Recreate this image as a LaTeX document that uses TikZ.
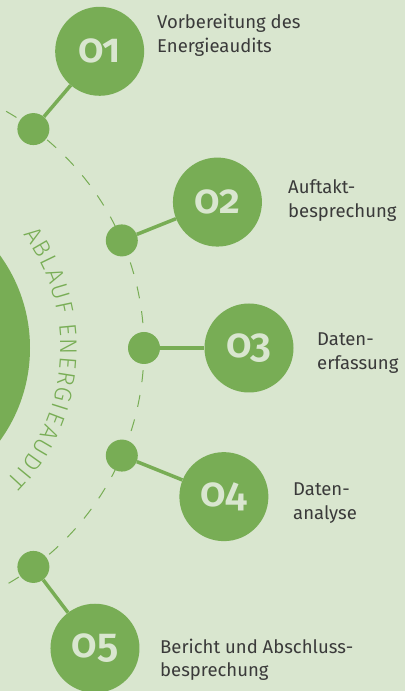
\documentclass[tikz,border=0pt]{standalone}
\usepackage{fontspec}
\setmainfont{Fira Sans}
\newfontfamily\numfont{Fira Sans SemiBold}[Numbers=OldStyle]
\newfontfamily\arcfont{Fira Sans Light}
\usetikzlibrary{positioning,decorations.text}
\definecolor{bg}{HTML}{D9E6CF}
\definecolor{leaf}{HTML}{78AD55}
\definecolor{ink}{HTML}{3A3A3A}
\tikzset{
  dot/.style={circle,fill=leaf,minimum size=32pt,inner sep=0pt},
  num/.style={circle,fill=leaf,minimum size=89pt,inner sep=0pt,text=bg,
    font=\numfont\fontsize{41}{41}\selectfont},
  desc/.style={align=left,anchor=base west,inner sep=0pt,text=ink,
    font=\fontsize{18.5}{24}\selectfont},
  link/.style={draw=leaf,line width=3.5pt},
}

\begin{document}
\begin{tikzpicture}[x=1pt,y=1pt]
           \useasboundingbox (0,0) rectangle (405,691);
           \clip (0,0) rectangle (405,691);
           \fill[bg] (0,0) rectangle (405,691);
           \coordinate (c) at (-128,343);
           \node[circle,fill=leaf,minimum size=316pt,inner sep=0pt] (hub) at (c) {};
           \draw[leaf,line width=1pt,dash pattern=on 12pt off 13pt] (c) circle[radius=272];
           \path[decorate,
                 decoration={text along path,text align=fit to path,text color=leaf,
                 text={|\arcfont\fontsize{24}{24}\selectfont|ABLAUF ENERGIEAUDIT}}]
                 ([shift={(37:189)}]c) arc[start angle=37,end angle=-44.5,radius=189];
           \node[dot] (d_1) at ([shift={(53.6:272)}]c) {};
           \node[dot] (d_2) at ([shift={(23.3:272)}]c) {};
           \node[dot] (d_3) at ([shift={(0:272)}]c) {};
           \node[dot] (d_4) at ([shift={(-23.3:272)}]c) {};
           \node[dot] (d_5) at ([shift={(-53.6:272)}]c) {};
           \node[num] (n_1) at ([shift={(52.5:374)}]c) {01};
           \node[num] (n_2) at ([shift={(22.9:375)}]c) {02};
           \node[num] (n_3) at ([shift={(0:377)}]c) {03};
           \node[num] (n_4) at ([shift={(-22.9:382)}]c) {04};
           \node[num] (n_5) at ([shift={(-53.4:374)}]c) {05};
            \path[link]
            (d_1) edge (n_1)
            (d_2) edge (n_2)
            (d_3) edge (n_3)
            (d_4) edge (n_4)
            (d_5) edge (n_5)
            ;
           \node[desc] (t_1) at (157,638) {Vorbereitung des\\Energieaudits};
           \node[desc] (t_2) at (288,473) {Auftakt-\\besprechung};
           \node[desc] (t_3) at (317,321) {Daten-\\erfassung};
           \node[desc] (t_4) at (293,171) {Daten-\\analyse};
           \node[desc] (t_5) at (160,14) {Bericht und Abschluss-\\besprechung};
        \end{tikzpicture}
\end{document}
